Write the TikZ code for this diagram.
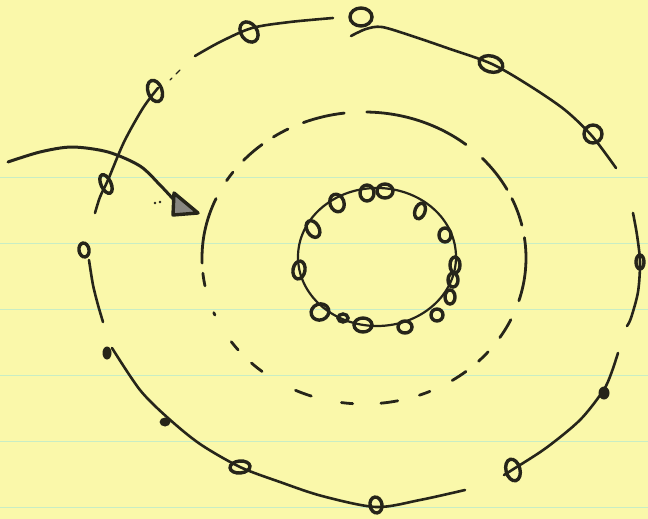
\documentclass[tikz,border=0pt]{standalone}
\definecolor{paper}{HTML}{FAF8AA}
\definecolor{rulecol}{HTML}{C8EDC4}
\definecolor{ink}{HTML}{26251A}
\newcommand\inkloop[5]{\draw[loopy,rotate around={#5:(#1,#2)}] (#1,#2) ellipse[x radius=#3,y radius=#4];}
\newcommand\dashpiece[2]{\draw[dashseg] (364,258) ++(#1:162 and 146) arc[start angle=#1,end angle=#2,x radius=162,y radius=146];}
\begin{document}
\begin{tikzpicture}[x=1pt,y=-1pt,
  inkline/.style={draw=ink,line width=2.6pt,line cap=round,line join=round},
  loopy/.style={draw=ink,line width=3.4pt},
  dashseg/.style={draw=ink,line width=2.8pt,line cap=round}]
\fill[paper] (0,0) rectangle (648,519);
\useasboundingbox (0,0) rectangle (648,519);
\foreach \y in {177,243,309,375,441,507} \draw[rulecol,line width=1pt] (0,\y) -- (648,\y);

% outer spiral, segments
\draw[inkline] plot[smooth] coordinates {(95,213)(100,197)(108,180)(124,142)(143,108)(158,88)};
\draw[ink,line width=1.4pt,line cap=round] (170,80) -- (172,78) (176,74) -- (180,70);
\draw[inkline] plot[smooth] coordinates {(195,56)(220,42)(252,28)(290,22)(333,18)};
\draw[inkline] plot[smooth] coordinates {(351,36)(366,29)(382,27)(412,36)(450,49)(492,64)(530,86)(565,110)(592,136)(616,168)};
\draw[inkline] plot[smooth] coordinates {(633,213)(637,235)(640,262)(638,292)(631,318)(627,326)};
\draw[inkline] plot[smooth] coordinates {(618,353)(611,374)(603,391)(580,420)(546,448)(512,470)(504,475)};
\draw[inkline] plot[smooth] coordinates {(465,490)(420,500)(376,507)(322,496)(280,482)(240,467)(200,444)(168,418)(140,390)(112,348)};
\draw[inkline] plot[smooth] coordinates {(89,260)(93,285)(98,305)(103,322)};
\fill[ink] (165,422) ellipse[x radius=5.5,y radius=4.5];

% outer loops
\inkloop{106}{184}{5}{10}{25}
\inkloop{155}{91}{7}{11}{20}
\inkloop{249}{32}{8}{11}{35}
\inkloop{361}{17}{11}{9}{0}
\inkloop{491}{64}{12}{8}{-15}
\inkloop{593}{134}{9}{9}{0}
\inkloop{640}{262}{4}{7}{0}
\fill[ink] (604,393) ellipse[x radius=5.5,y radius=6.5];
\inkloop{513}{470}{7}{11}{15}
\inkloop{376}{505}{6}{8}{10}
\inkloop{240}{467}{10}{6}{5}
\fill[ink] (107,353) ellipse[x radius=4.5,y radius=6.5];
\inkloop{84}{250}{5}{7}{10}

% arrow
\draw[inkline,line width=3pt] plot[smooth] coordinates {(8,162)(40,152)(72,147)(108,152)(140,166)(160,185)(174,200)};
\draw[ink,line width=3.4pt,line join=round,fill=ink!55] (174,193) -- (198,213) -- (173,215) -- cycle;
\fill[ink] (155,203) circle[radius=1.4] (160,202) circle[radius=1.4];

% dashed middle ring
\dashpiece{222}{231}
\dashpiece{236}{242}
\dashpiece{248}{263}
\dashpiece{271}{309}
\dashpiece{317}{332}
\dashpiece{336}{347}
\dashpiece{352}{377}
\dashpiece{25}{33}
\dashpiece{40}{45}
\dashpiece{51}{57}
\dashpiece{66}{70}
\dashpiece{78}{84}
\dashpiece{94}{98}
\dashpiece{109}{115}
\dashpiece{129}{134}
\dashpiece{141}{145}
\dashpiece{157}{158}
\dashpiece{169}{174}
\dashpiece{178}{204}
\dashpiece{212}{216}

% inner ring of loops
\draw[ink,line width=2.2pt] (377,257) ellipse[x radius=79,y radius=69];
\inkloop{337}{203}{7}{9}{20}
\inkloop{367}{193}{7}{8}{0}
\inkloop{385}{191}{8}{7}{0}
\inkloop{420}{211}{5}{8}{-20}
\inkloop{445}{235}{6}{7}{0}
\inkloop{455}{265}{5}{8}{0}
\inkloop{453}{280}{5}{7}{0}
\inkloop{450}{297}{5}{7}{0}
\inkloop{437}{315}{6}{6}{0}
\inkloop{405}{327}{7}{6}{0}
\inkloop{363}{325}{9}{7}{0}
\inkloop{343}{318}{5}{4}{0}
\inkloop{320}{312}{9}{8}{20}
\inkloop{299}{270}{6}{9}{-10}
\inkloop{313}{229}{6}{9}{30}
\end{tikzpicture}
\end{document}
